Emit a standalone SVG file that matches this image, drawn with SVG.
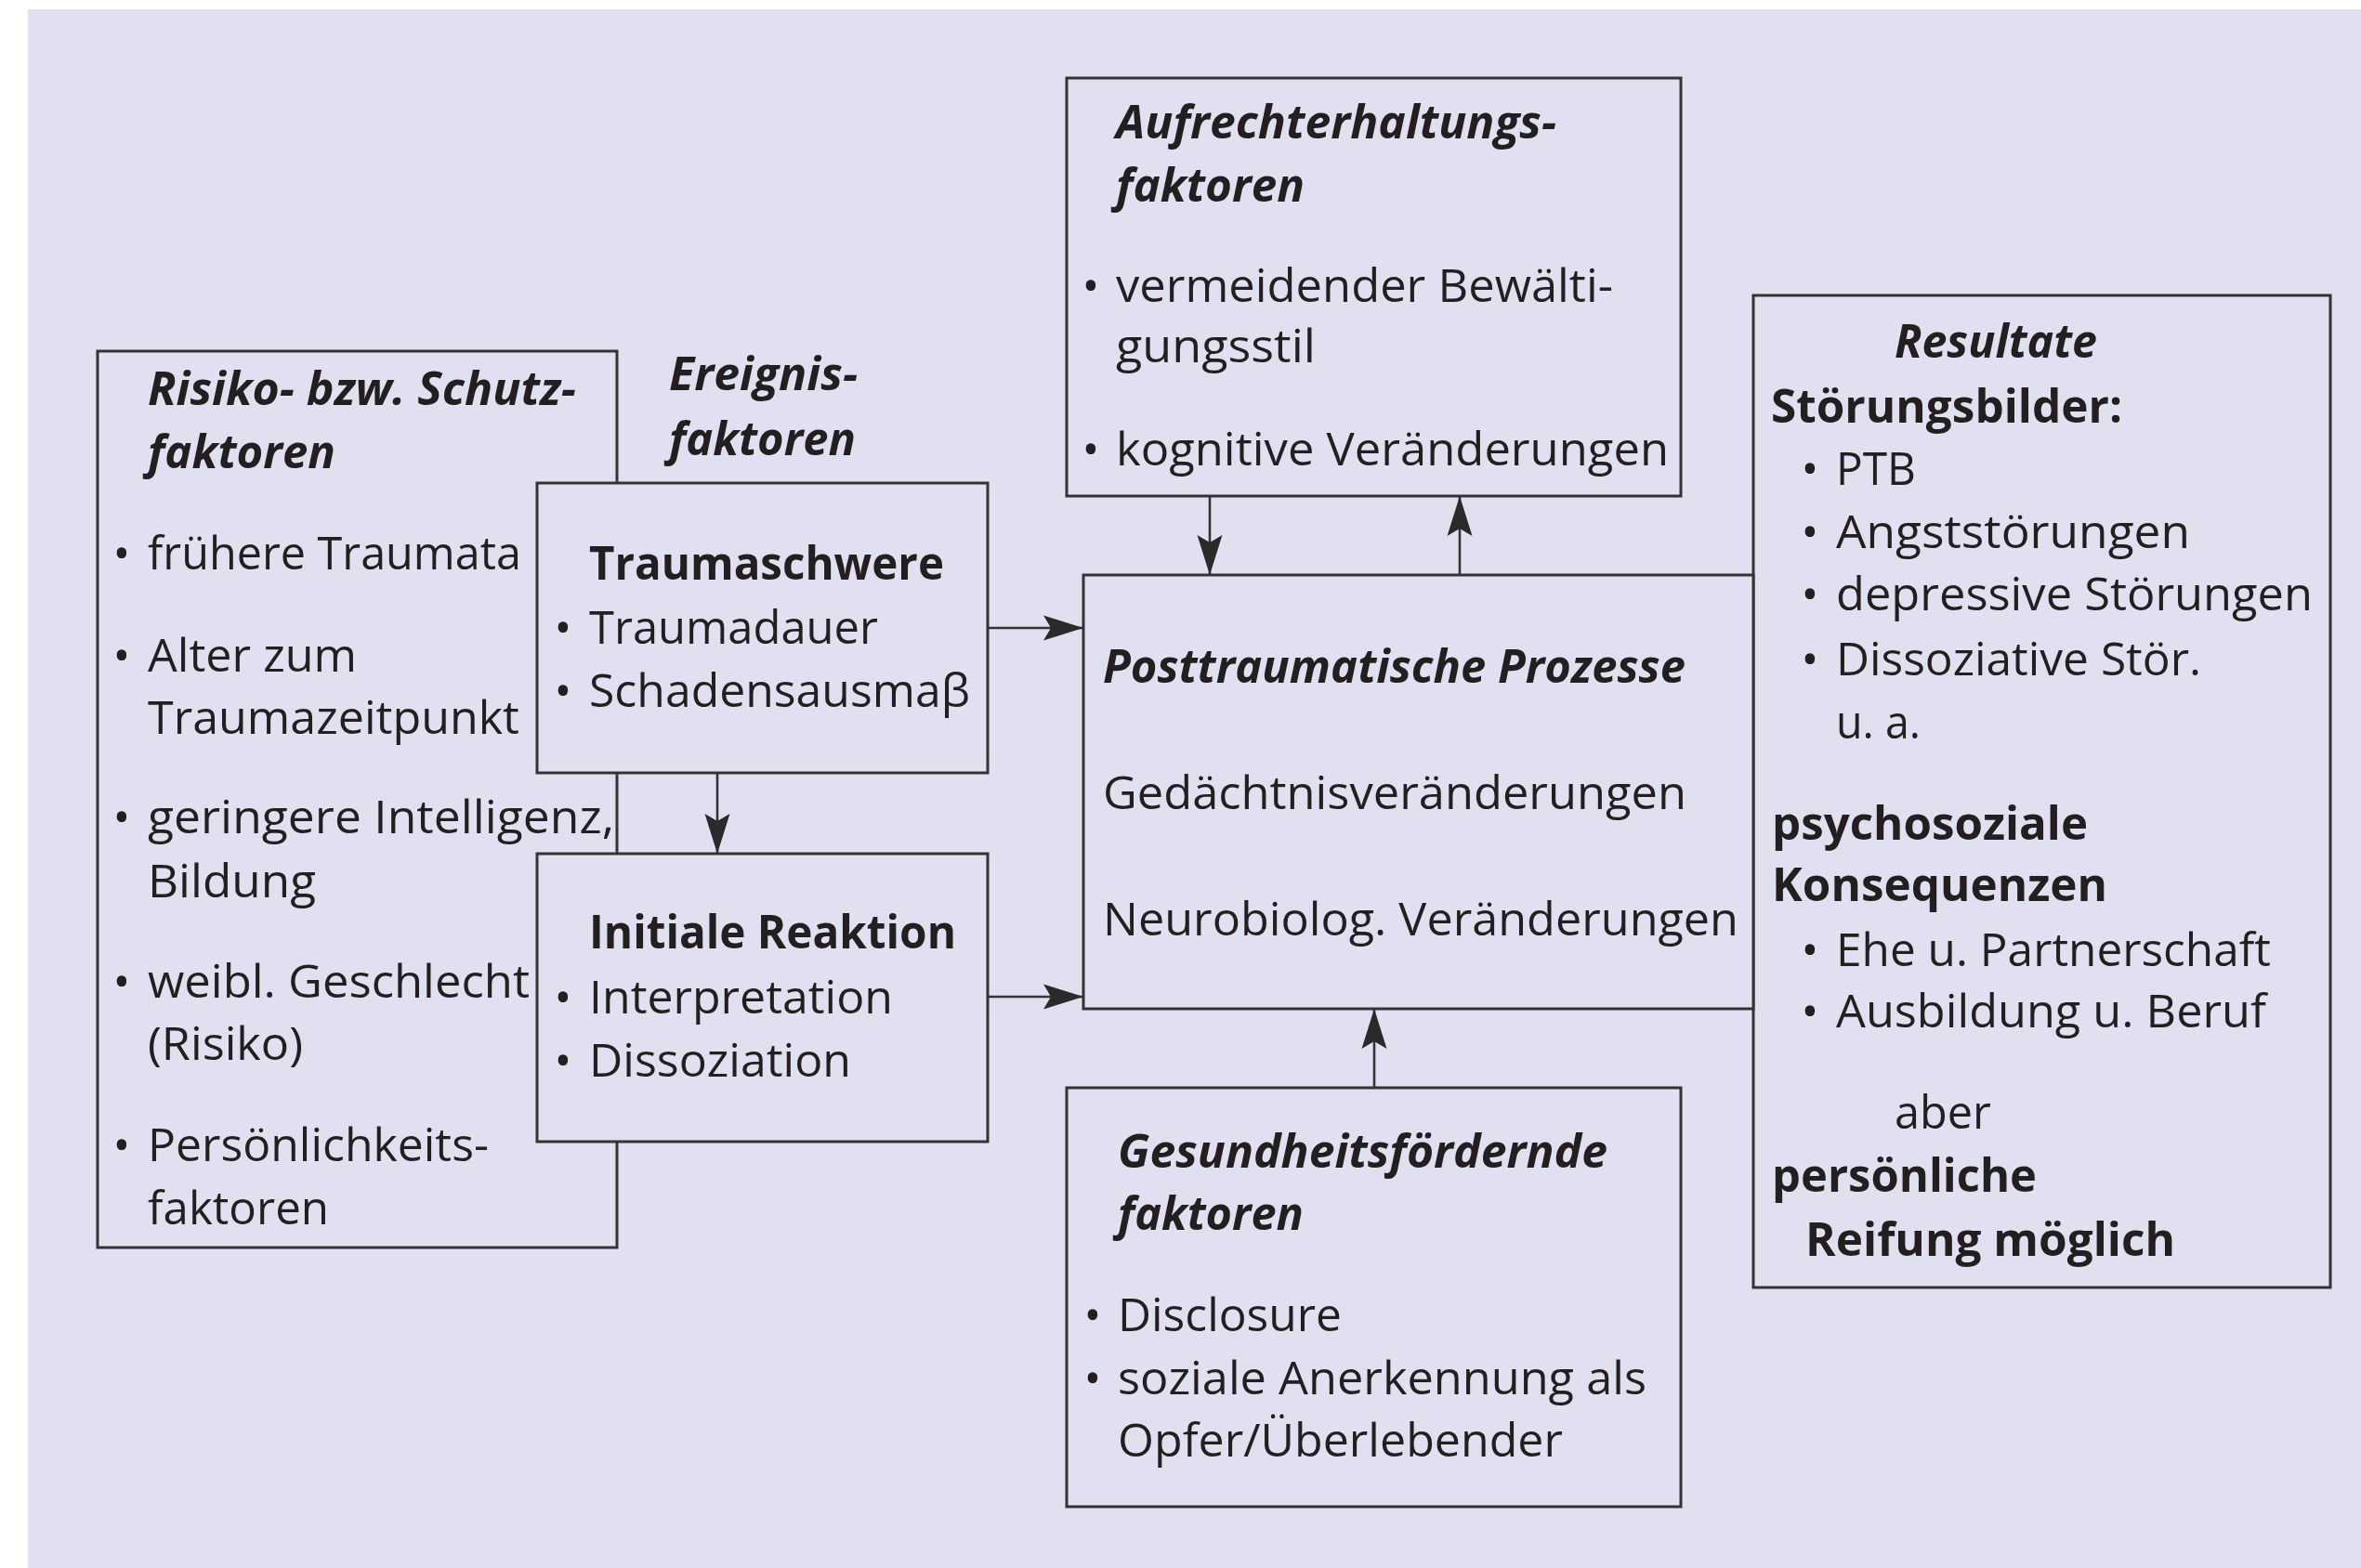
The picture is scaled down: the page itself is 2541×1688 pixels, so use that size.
<svg xmlns="http://www.w3.org/2000/svg" width="2541" height="1688" viewBox="0 0 2541 1688">
<style>
text{font-family:"Open Sans","Noto Sans","Liberation Sans",sans-serif;font-size:50px;fill:#231f20}
.bi{font-weight:700;font-style:italic}
.b{font-weight:700}
.box{fill:#e1e0f0;stroke:#333;stroke-width:3}
.con{stroke:#333;stroke-width:2.6;fill:none}
.bul{text-anchor:middle}
</style>
<defs>
<marker id="ah" markerUnits="userSpaceOnUse" markerWidth="50" markerHeight="30" viewBox="-45 -15 50 30" refX="0" refY="0" orient="auto">
<path d="M0,0 L-43,-13.5 L-35,0 L-43,13.5 Z" fill="#2a2a2a"/>
</marker>
</defs>
<rect x="30" y="10" width="2511" height="1678" fill="#e1e0f0"/>

<g id="risiko">
<rect class="box" x="105" y="378" width="559" height="965"/>
<text class="bi" x="159" y="436" textLength="461" lengthAdjust="spacingAndGlyphs">Risiko- bzw. Schutz-</text>
<text class="bi" x="159" y="504" textLength="202" lengthAdjust="spacingAndGlyphs">faktoren</text>
<text class="bul" x="131" y="613">•</text>
<text x="159" y="613" textLength="402" lengthAdjust="spacingAndGlyphs">frühere Traumata</text>
<text class="bul" x="131" y="723">•</text>
<text x="159" y="723" textLength="225" lengthAdjust="spacingAndGlyphs">Alter zum</text>
<text x="159" y="790" textLength="400" lengthAdjust="spacingAndGlyphs">Traumazeitpunkt</text>
<text class="bul" x="131" y="897">•</text>
<text x="159" y="897" textLength="502" lengthAdjust="spacingAndGlyphs">geringere Intelligenz,</text>
<text x="159" y="966" textLength="181" lengthAdjust="spacingAndGlyphs">Bildung</text>
<text class="bul" x="131" y="1074">•</text>
<text x="159" y="1074" textLength="411" lengthAdjust="spacingAndGlyphs">weibl. Geschlecht</text>
<text x="159" y="1141" textLength="167" lengthAdjust="spacingAndGlyphs">(Risiko)</text>
<text class="bul" x="131" y="1250">•</text>
<text x="159" y="1250" textLength="367" lengthAdjust="spacingAndGlyphs">Persönlichkeits-</text>
<text x="159" y="1318" textLength="195" lengthAdjust="spacingAndGlyphs">faktoren</text>
</g>

<g id="ereignis">
<text class="bi" x="720" y="420" textLength="203" lengthAdjust="spacingAndGlyphs">Ereignis-</text>
<text class="bi" x="720" y="490" textLength="201" lengthAdjust="spacingAndGlyphs">faktoren</text>
</g>

<g id="traumaschwere">
<rect class="box" x="578" y="520" width="485" height="312"/>
<text class="b" x="634" y="624" textLength="382" lengthAdjust="spacingAndGlyphs">Traumaschwere</text>
<text class="bul" x="606" y="693">•</text>
<text x="634" y="693" textLength="311" lengthAdjust="spacingAndGlyphs">Traumadauer</text>
<text class="bul" x="606" y="761">•</text>
<text x="634" y="761" textLength="410" lengthAdjust="spacingAndGlyphs">Schadensausmaβ</text>
</g>

<g id="initiale">
<rect class="box" x="578" y="919" width="485" height="310"/>
<text class="b" x="634" y="1021" textLength="395" lengthAdjust="spacingAndGlyphs">Initiale Reaktion</text>
<text class="bul" x="606" y="1091">•</text>
<text x="634" y="1091" textLength="327" lengthAdjust="spacingAndGlyphs">Interpretation</text>
<text class="bul" x="606" y="1159">•</text>
<text x="634" y="1159" textLength="282" lengthAdjust="spacingAndGlyphs">Dissoziation</text>
</g>

<g id="aufrechterhaltung">
<rect class="box" x="1148" y="84" width="661" height="450"/>
<text class="bi" x="1201" y="149" textLength="474" lengthAdjust="spacingAndGlyphs">Aufrechterhaltungs-</text>
<text class="bi" x="1201" y="217" textLength="203" lengthAdjust="spacingAndGlyphs">faktoren</text>
<text class="bul" x="1174" y="325">•</text>
<text x="1201" y="325" textLength="535" lengthAdjust="spacingAndGlyphs">vermeidender Bewälti-</text>
<text x="1201" y="390" textLength="215" lengthAdjust="spacingAndGlyphs">gungsstil</text>
<text class="bul" x="1174" y="501">•</text>
<text x="1201" y="501" textLength="595" lengthAdjust="spacingAndGlyphs">kognitive Veränderungen</text>
</g>

<g id="resultate">
<rect class="box" x="1887" y="318" width="621" height="1068"/>
<text class="bi" x="2039" y="385" textLength="218" lengthAdjust="spacingAndGlyphs">Resultate</text>
<text class="b" x="1906" y="455" textLength="378" lengthAdjust="spacingAndGlyphs">Störungsbilder:</text>
<text class="bul" x="1948" y="522">•</text>
<text x="1976" y="522" textLength="86" lengthAdjust="spacingAndGlyphs">PTB</text>
<text class="bul" x="1948" y="590">•</text>
<text x="1976" y="590" textLength="381" lengthAdjust="spacingAndGlyphs">Angststörungen</text>
<text class="bul" x="1948" y="657">•</text>
<text x="1976" y="657" textLength="513" lengthAdjust="spacingAndGlyphs">depressive Störungen</text>
<text class="bul" x="1948" y="727">•</text>
<text x="1976" y="727" textLength="393" lengthAdjust="spacingAndGlyphs">Dissoziative Stör.</text>
<text x="1976" y="795" textLength="91" lengthAdjust="spacingAndGlyphs">u. a.</text>
<text class="b" x="1907" y="904" textLength="340" lengthAdjust="spacingAndGlyphs">psychosoziale</text>
<text class="b" x="1907" y="970" textLength="361" lengthAdjust="spacingAndGlyphs">Konsequenzen</text>
<text class="bul" x="1948" y="1040">•</text>
<text x="1976" y="1040" textLength="468" lengthAdjust="spacingAndGlyphs">Ehe u. Partnerschaft</text>
<text class="bul" x="1948" y="1106">•</text>
<text x="1976" y="1106" textLength="463" lengthAdjust="spacingAndGlyphs">Ausbildung u. Beruf</text>
<text x="2039" y="1215" textLength="104" lengthAdjust="spacingAndGlyphs">aber</text>
<text class="b" x="1907" y="1283" textLength="285" lengthAdjust="spacingAndGlyphs">persönliche</text>
<text class="b" x="1943" y="1352" textLength="398" lengthAdjust="spacingAndGlyphs">Reifung möglich</text>
</g>

<g id="posttraumatisch">
<rect class="box" x="1166" y="619" width="721" height="467"/>
<text class="bi" x="1187" y="735" textLength="627" lengthAdjust="spacingAndGlyphs">Posttraumatische Prozesse</text>
<text x="1187" y="871" textLength="628" lengthAdjust="spacingAndGlyphs">Gedächtnisveränderungen</text>
<text x="1187" y="1007" textLength="684" lengthAdjust="spacingAndGlyphs">Neurobiolog. Veränderungen</text>
</g>

<g id="gesundheit">
<rect class="box" x="1148" y="1171" width="661" height="451"/>
<text class="bi" x="1203" y="1257" textLength="527" lengthAdjust="spacingAndGlyphs">Gesundheitsfördernde</text>
<text class="bi" x="1203" y="1324" textLength="200" lengthAdjust="spacingAndGlyphs">faktoren</text>
<text class="bul" x="1176" y="1433">•</text>
<text x="1203" y="1433" textLength="241" lengthAdjust="spacingAndGlyphs">Disclosure</text>
<text class="bul" x="1176" y="1501">•</text>
<text x="1203" y="1501" textLength="569" lengthAdjust="spacingAndGlyphs">soziale Anerkennung als</text>
<text x="1203" y="1568" textLength="479" lengthAdjust="spacingAndGlyphs">Opfer/Überlebender</text>
</g>

<g id="connectors">
<path class="con" d="M1063,676 H1166" marker-end="url(#ah)"/>
<path class="con" d="M1063,1073 H1166" marker-end="url(#ah)"/>
<path class="con" d="M772,832 V919" marker-end="url(#ah)"/>
<path class="con" d="M1302,534 V619" marker-end="url(#ah)"/>
<path class="con" d="M1571,619 V534" marker-end="url(#ah)"/>
<path class="con" d="M1479,1171 V1086" marker-end="url(#ah)"/>
</g>
</svg>
